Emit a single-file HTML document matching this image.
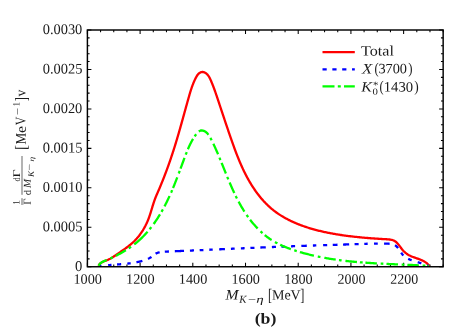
<!DOCTYPE html>
<html><head><meta charset="utf-8"><title>chart</title>
<style>html,body{margin:0;padding:0;background:#fff}svg{display:block} .t{filter:grayscale(1)} text{font-family:"Liberation Serif",serif}</style>
</head><body>
<svg width="469" height="328" viewBox="0 0 469 328">
<rect width="469" height="328" fill="#fff"/>
<clipPath id="c"><rect x="87.4" y="30.0" width="355.75" height="236.75"/></clipPath>
<path d="M87.40,266.75 v-4.0 M87.40,30.0 v4.0 M100.58,266.75 v-2.2 M100.58,30.0 v2.2 M113.75,266.75 v-2.2 M113.75,30.0 v2.2 M126.93,266.75 v-2.2 M126.93,30.0 v2.2 M140.10,266.75 v-4.0 M140.10,30.0 v4.0 M153.28,266.75 v-2.2 M153.28,30.0 v2.2 M166.46,266.75 v-2.2 M166.46,30.0 v2.2 M179.63,266.75 v-2.2 M179.63,30.0 v2.2 M192.81,266.75 v-4.0 M192.81,30.0 v4.0 M205.98,266.75 v-2.2 M205.98,30.0 v2.2 M219.16,266.75 v-2.2 M219.16,30.0 v2.2 M232.34,266.75 v-2.2 M232.34,30.0 v2.2 M245.51,266.75 v-4.0 M245.51,30.0 v4.0 M258.69,266.75 v-2.2 M258.69,30.0 v2.2 M271.86,266.75 v-2.2 M271.86,30.0 v2.2 M285.04,266.75 v-2.2 M285.04,30.0 v2.2 M298.21,266.75 v-4.0 M298.21,30.0 v4.0 M311.39,266.75 v-2.2 M311.39,30.0 v2.2 M324.57,266.75 v-2.2 M324.57,30.0 v2.2 M337.74,266.75 v-2.2 M337.74,30.0 v2.2 M350.92,266.75 v-4.0 M350.92,30.0 v4.0 M364.09,266.75 v-2.2 M364.09,30.0 v2.2 M377.27,266.75 v-2.2 M377.27,30.0 v2.2 M390.45,266.75 v-2.2 M390.45,30.0 v2.2 M403.62,266.75 v-4.0 M403.62,30.0 v4.0 M416.80,266.75 v-2.2 M416.80,30.0 v2.2 M429.97,266.75 v-2.2 M429.97,30.0 v2.2 M443.15,266.75 v-2.2 M443.15,30.0 v2.2 M87.4,266.75 h4.0 M443.15,266.75 h-4.0 M87.4,258.86 h2.2 M443.15,258.86 h-2.2 M87.4,250.97 h2.2 M443.15,250.97 h-2.2 M87.4,243.07 h2.2 M443.15,243.07 h-2.2 M87.4,235.18 h2.2 M443.15,235.18 h-2.2 M87.4,227.29 h4.0 M443.15,227.29 h-4.0 M87.4,219.40 h2.2 M443.15,219.40 h-2.2 M87.4,211.51 h2.2 M443.15,211.51 h-2.2 M87.4,203.62 h2.2 M443.15,203.62 h-2.2 M87.4,195.72 h2.2 M443.15,195.72 h-2.2 M87.4,187.83 h4.0 M443.15,187.83 h-4.0 M87.4,179.94 h2.2 M443.15,179.94 h-2.2 M87.4,172.05 h2.2 M443.15,172.05 h-2.2 M87.4,164.16 h2.2 M443.15,164.16 h-2.2 M87.4,156.27 h2.2 M443.15,156.27 h-2.2 M87.4,148.38 h4.0 M443.15,148.38 h-4.0 M87.4,140.48 h2.2 M443.15,140.48 h-2.2 M87.4,132.59 h2.2 M443.15,132.59 h-2.2 M87.4,124.70 h2.2 M443.15,124.70 h-2.2 M87.4,116.81 h2.2 M443.15,116.81 h-2.2 M87.4,108.92 h4.0 M443.15,108.92 h-4.0 M87.4,101.02 h2.2 M443.15,101.02 h-2.2 M87.4,93.13 h2.2 M443.15,93.13 h-2.2 M87.4,85.24 h2.2 M443.15,85.24 h-2.2 M87.4,77.35 h2.2 M443.15,77.35 h-2.2 M87.4,69.46 h4.0 M443.15,69.46 h-4.0 M87.4,61.57 h2.2 M443.15,61.57 h-2.2 M87.4,53.67 h2.2 M443.15,53.67 h-2.2 M87.4,45.78 h2.2 M443.15,45.78 h-2.2 M87.4,37.89 h2.2 M443.15,37.89 h-2.2 M87.4,30.00 h4.0 M443.15,30.00 h-4.0" stroke="#000" stroke-width="1.05" fill="none"/>
<g clip-path="url(#c)" fill="none" stroke-linejoin="round">
<path d="M98.60,265.80 L99.05,264.89 L99.59,264.11 L100.22,263.45 L100.92,262.87 L101.68,262.38 L102.48,261.96 L103.33,261.58 L104.20,261.23 L105.08,260.91 L105.97,260.58 L106.85,260.24 L107.71,259.88 L108.55,259.49 L109.38,259.08 L110.20,258.66 L111.01,258.21 L111.80,257.74 L112.59,257.27 L113.37,256.78 L114.14,256.27 L114.90,255.76 L115.67,255.25 L116.43,254.72 L117.19,254.20 L117.95,253.67 L118.71,253.14 L119.48,252.61 L120.24,252.08 L121.01,251.56 L121.78,251.03 L122.55,250.49 L123.31,249.96 L124.08,249.42 L124.84,248.88 L125.59,248.33 L126.35,247.78 L127.10,247.22 L127.84,246.66 L128.58,246.09 L129.31,245.52 L130.04,244.93 L130.75,244.34 L131.46,243.74 L132.16,243.12 L132.85,242.50 L133.53,241.87 L134.20,241.23 L134.86,240.57 L135.50,239.90 L136.13,239.22 L136.75,238.54 L137.36,237.84 L137.96,237.13 L138.55,236.41 L139.13,235.68 L139.69,234.94 L140.24,234.19 L140.78,233.43 L141.31,232.66 L141.83,231.89 L142.34,231.11 L142.84,230.32 L143.32,229.52 L143.79,228.71 L144.26,227.90 L144.71,227.08 L145.15,226.26 L145.57,225.43 L145.99,224.59 L146.40,223.75 L146.79,222.90 L147.18,222.05 L147.55,221.19 L147.91,220.33 L148.26,219.46 L148.60,218.59 L148.93,217.72 L149.25,216.84 L149.55,215.96 L149.85,215.08 L150.14,214.20 L150.43,213.31 L150.71,212.42 L150.98,211.53 L151.25,210.64 L151.52,209.75 L151.79,208.86 L152.05,207.97 L152.32,207.08 L152.59,206.19 L152.86,205.30 L153.14,204.42 L153.42,203.53 L153.70,202.65 L154.00,201.77 L154.30,200.89 L154.61,200.01 L154.94,199.14 L155.27,198.27 L155.61,197.41 L155.96,196.55 L156.32,195.68 L156.69,194.83 L157.05,193.97 L157.42,193.11 L157.79,192.26 L158.17,191.40 L158.53,190.54 L158.90,189.69 L159.27,188.83 L159.63,187.97 L159.99,187.11 L160.35,186.25 L160.71,185.39 L161.07,184.53 L161.42,183.67 L161.77,182.80 L162.12,181.94 L162.47,181.08 L162.81,180.21 L163.16,179.35 L163.50,178.48 L163.84,177.61 L164.18,176.75 L164.51,175.88 L164.85,175.01 L165.18,174.14 L165.51,173.27 L165.84,172.40 L166.16,171.53 L166.49,170.66 L166.81,169.78 L167.13,168.91 L167.45,168.04 L167.77,167.16 L168.09,166.29 L168.40,165.41 L168.71,164.53 L169.02,163.65 L169.33,162.78 L169.64,161.90 L169.94,161.02 L170.25,160.14 L170.55,159.26 L170.85,158.38 L171.15,157.50 L171.45,156.61 L171.74,155.73 L172.04,154.85 L172.33,153.96 L172.62,153.08 L172.91,152.19 L173.19,151.30 L173.48,150.42 L173.76,149.53 L174.05,148.64 L174.33,147.75 L174.61,146.86 L174.88,145.97 L175.16,145.08 L175.44,144.19 L175.71,143.30 L175.98,142.41 L176.25,141.51 L176.52,140.62 L176.79,139.73 L177.06,138.83 L177.32,137.94 L177.59,137.04 L177.85,136.15 L178.11,135.25 L178.37,134.35 L178.63,133.46 L178.89,132.56 L179.15,131.66 L179.41,130.76 L179.66,129.87 L179.92,128.97 L180.18,128.07 L180.43,127.17 L180.68,126.27 L180.94,125.37 L181.19,124.48 L181.44,123.58 L181.69,122.68 L181.94,121.78 L182.19,120.88 L182.44,119.98 L182.69,119.08 L182.94,118.19 L183.19,117.29 L183.44,116.39 L183.69,115.49 L183.94,114.59 L184.18,113.70 L184.43,112.80 L184.68,111.90 L184.93,111.01 L185.18,110.11 L185.42,109.21 L185.67,108.32 L185.92,107.42 L186.17,106.53 L186.42,105.63 L186.67,104.74 L186.92,103.84 L187.17,102.95 L187.42,102.06 L187.67,101.17 L187.92,100.27 L188.17,99.38 L188.42,98.49 L188.67,97.60 L188.93,96.71 L189.18,95.83 L189.44,94.94 L189.70,94.05 L189.96,93.17 L190.22,92.28 L190.49,91.39 L190.77,90.51 L191.05,89.62 L191.34,88.74 L191.64,87.85 L191.95,86.97 L192.26,86.08 L192.59,85.20 L192.93,84.31 L193.28,83.43 L193.64,82.54 L194.02,81.66 L194.41,80.77 L194.82,79.88 L195.24,79.00 L195.68,78.11 L196.14,77.23 L196.62,76.36 L197.13,75.53 L197.69,74.76 L198.28,74.05 L198.93,73.42 L199.62,72.90 L200.36,72.48 L201.13,72.18 L201.92,72.01 L202.72,71.97 L203.52,72.08 L204.30,72.32 L205.07,72.68 L205.82,73.16 L206.53,73.72 L207.21,74.37 L207.84,75.09 L208.42,75.86 L208.96,76.66 L209.45,77.50 L209.90,78.37 L210.32,79.26 L210.73,80.15 L211.11,81.05 L211.49,81.94 L211.86,82.83 L212.22,83.72 L212.57,84.61 L212.92,85.49 L213.26,86.38 L213.59,87.26 L213.92,88.13 L214.24,89.01 L214.56,89.89 L214.87,90.76 L215.18,91.63 L215.48,92.50 L215.79,93.38 L216.08,94.25 L216.38,95.12 L216.68,95.99 L216.97,96.86 L217.26,97.73 L217.56,98.61 L217.85,99.48 L218.14,100.35 L218.43,101.23 L218.73,102.11 L219.02,102.98 L219.31,103.86 L219.60,104.74 L219.90,105.62 L220.19,106.50 L220.48,107.38 L220.77,108.26 L221.07,109.14 L221.36,110.02 L221.65,110.90 L221.94,111.79 L222.24,112.67 L222.53,113.55 L222.82,114.44 L223.12,115.32 L223.41,116.21 L223.71,117.09 L224.00,117.98 L224.30,118.86 L224.59,119.75 L224.89,120.63 L225.18,121.52 L225.48,122.41 L225.78,123.29 L226.07,124.18 L226.37,125.06 L226.67,125.95 L226.97,126.83 L227.27,127.72 L227.57,128.61 L227.87,129.49 L228.17,130.38 L228.47,131.26 L228.77,132.15 L229.07,133.03 L229.38,133.91 L229.68,134.80 L229.98,135.68 L230.29,136.56 L230.59,137.45 L230.90,138.33 L231.21,139.21 L231.52,140.09 L231.82,140.97 L232.13,141.85 L232.45,142.73 L232.76,143.61 L233.07,144.49 L233.39,145.36 L233.70,146.24 L234.02,147.12 L234.34,147.99 L234.66,148.86 L234.98,149.74 L235.31,150.61 L235.63,151.48 L235.96,152.35 L236.29,153.22 L236.63,154.09 L236.96,154.95 L237.30,155.82 L237.64,156.68 L237.99,157.54 L238.34,158.41 L238.69,159.27 L239.04,160.12 L239.40,160.98 L239.76,161.84 L240.12,162.69 L240.49,163.54 L240.86,164.39 L241.23,165.24 L241.61,166.09 L241.99,166.94 L242.38,167.78 L242.77,168.63 L243.16,169.47 L243.56,170.30 L243.96,171.14 L244.37,171.98 L244.78,172.81 L245.20,173.64 L245.62,174.47 L246.05,175.30 L246.48,176.12 L246.92,176.95 L247.36,177.77 L247.81,178.59 L248.26,179.40 L248.72,180.22 L249.19,181.03 L249.66,181.84 L250.14,182.64 L250.62,183.45 L251.11,184.25 L251.60,185.04 L252.10,185.84 L252.60,186.63 L253.11,187.41 L253.63,188.20 L254.15,188.98 L254.68,189.75 L255.22,190.52 L255.76,191.29 L256.31,192.05 L256.86,192.80 L257.42,193.56 L257.99,194.30 L258.56,195.04 L259.14,195.78 L259.72,196.51 L260.31,197.23 L260.91,197.95 L261.51,198.67 L262.12,199.37 L262.74,200.07 L263.36,200.77 L263.99,201.45 L264.62,202.13 L265.27,202.81 L265.91,203.47 L266.57,204.13 L267.23,204.78 L267.90,205.43 L268.58,206.06 L269.26,206.69 L269.95,207.31 L270.64,207.93 L271.35,208.53 L272.05,209.13 L272.77,209.71 L273.49,210.29 L274.22,210.86 L274.96,211.42 L275.70,211.97 L276.45,212.52 L277.21,213.05 L277.97,213.58 L278.74,214.10 L279.51,214.61 L280.29,215.11 L281.07,215.61 L281.86,216.10 L282.66,216.57 L283.46,217.05 L284.27,217.51 L285.08,217.97 L285.89,218.42 L286.71,218.86 L287.54,219.29 L288.36,219.72 L289.20,220.14 L290.03,220.55 L290.87,220.96 L291.72,221.36 L292.57,221.75 L293.42,222.14 L294.28,222.52 L295.13,222.89 L296.00,223.26 L296.86,223.62 L297.73,223.97 L298.60,224.32 L299.47,224.66 L300.35,224.99 L301.23,225.32 L302.11,225.65 L302.99,225.96 L303.87,226.27 L304.76,226.58 L305.65,226.88 L306.54,227.18 L307.43,227.47 L308.32,227.75 L309.21,228.03 L310.11,228.30 L311.01,228.57 L311.90,228.83 L312.80,229.09 L313.70,229.35 L314.60,229.60 L315.50,229.84 L316.40,230.08 L317.31,230.31 L318.21,230.54 L319.12,230.77 L320.02,230.99 L320.93,231.21 L321.84,231.42 L322.74,231.63 L323.65,231.83 L324.56,232.03 L325.47,232.23 L326.39,232.42 L327.30,232.61 L328.21,232.79 L329.12,232.97 L330.04,233.15 L330.95,233.32 L331.87,233.49 L332.78,233.66 L333.70,233.82 L334.62,233.98 L335.53,234.14 L336.45,234.29 L337.37,234.44 L338.29,234.59 L339.20,234.73 L340.12,234.87 L341.04,235.01 L341.96,235.15 L342.88,235.28 L343.80,235.41 L344.72,235.53 L345.64,235.66 L346.56,235.78 L347.48,235.90 L348.40,236.02 L349.32,236.13 L350.24,236.25 L351.16,236.36 L352.08,236.46 L353.00,236.57 L353.92,236.68 L354.84,236.78 L355.76,236.88 L356.69,236.98 L357.61,237.07 L358.53,237.17 L359.45,237.26 L360.37,237.35 L361.30,237.44 L362.22,237.53 L363.15,237.61 L364.07,237.70 L365.00,237.78 L365.93,237.86 L366.85,237.94 L367.78,238.02 L368.71,238.09 L369.64,238.17 L370.57,238.24 L371.51,238.31 L372.44,238.38 L373.38,238.45 L374.31,238.51 L375.25,238.58 L376.19,238.64 L377.13,238.71 L378.07,238.77 L379.02,238.83 L379.96,238.89 L380.91,238.94 L381.85,239.00 L382.80,239.06 L383.76,239.11 L384.71,239.16 L385.67,239.22 L386.62,239.27 L387.58,239.33 L388.53,239.40 L389.47,239.49 L390.39,239.61 L391.29,239.77 L392.17,239.98 L393.02,240.24 L393.83,240.56 L394.61,240.96 L395.34,241.43 L396.04,241.97 L396.70,242.57 L397.34,243.22 L397.96,243.91 L398.56,244.64 L399.14,245.39 L399.72,246.16 L400.29,246.94 L400.86,247.72 L401.44,248.49 L402.03,249.25 L402.63,249.98 L403.25,250.68 L403.90,251.35 L404.56,251.98 L405.24,252.58 L405.95,253.16 L406.67,253.69 L407.42,254.20 L408.18,254.69 L408.97,255.14 L409.77,255.57 L410.60,255.97 L411.44,256.34 L412.30,256.70 L413.17,257.04 L414.05,257.37 L414.94,257.69 L415.84,258.00 L416.74,258.31 L417.63,258.62 L418.53,258.94 L419.42,259.27 L420.30,259.61 L421.17,259.96 L422.03,260.34 L422.87,260.74 L423.69,261.16 L424.50,261.62 L425.27,262.11 L426.03,262.65 L426.75,263.22 L427.44,263.84 L428.10,264.50 L428.72,265.22 L429.30,266.00" stroke="#ff0000" stroke-width="2.3"/>
<path d="M99.71,266.18 L100.04,266.13 L100.38,266.09 L100.71,266.04 L101.04,265.99 L101.38,265.95 M108.11,265.20 L108.45,265.17 L108.78,265.14 L109.12,265.11 L109.46,265.08 L109.80,265.06 L110.14,265.03 L110.48,265.00 L110.82,264.97 L111.16,264.94 L111.50,264.92 M117.07,264.50 L117.41,264.48 L117.75,264.45 L118.10,264.42 L118.44,264.40 L118.78,264.37 L119.12,264.35 L119.46,264.32 L119.80,264.29 L120.14,264.27 L120.49,264.24 L120.83,264.21 L121.17,264.19 M127.29,263.61 L127.63,263.58 L127.97,263.54 L128.31,263.50 L128.64,263.46 L128.98,263.42 L129.32,263.38 L129.66,263.34 L130.00,263.29 L130.33,263.25 L130.67,263.20 M136.47,262.26 L136.80,262.19 L137.13,262.12 L137.46,262.06 L137.79,261.99 L138.12,261.92 L138.45,261.84 L138.78,261.77 L139.11,261.69 L139.43,261.62 L139.76,261.54 L140.09,261.46 L140.42,261.38 L140.74,261.29 L141.07,261.21 L141.40,261.12 L141.72,261.04 L142.05,260.95 L142.37,260.85 M147.96,258.86 L148.26,258.71 L148.56,258.57 L148.86,258.41 L149.16,258.26 L149.46,258.10 L149.75,257.93 L150.04,257.77 L150.33,257.59 L150.61,257.41 L150.89,257.23 L151.18,257.04 L151.45,256.84 M155.62,253.72 L155.91,253.55 L156.21,253.40 L156.50,253.25 L156.81,253.12 L157.11,252.99 L157.43,252.87 L157.74,252.76 L158.06,252.66 L158.38,252.56 L158.70,252.48 L159.02,252.39 L159.35,252.32 L159.68,252.25 M164.82,251.66 L165.16,251.64 L165.50,251.62 L165.84,251.61 L166.18,251.59 L166.52,251.58 L166.87,251.56 L167.21,251.55 L167.55,251.54 L167.89,251.52 L168.23,251.51 L168.57,251.50 L168.91,251.48 M174.82,251.24 L175.16,251.23 L175.51,251.21 L175.85,251.20 L176.19,251.18 L176.53,251.17 L176.87,251.15 L177.21,251.14 L177.55,251.13 L177.89,251.11 L178.23,251.10 L178.57,251.08 L178.91,251.07 L179.25,251.05 L179.59,251.04 L179.94,251.03 L180.28,251.01 L180.62,251.00 L180.96,250.98 L181.30,250.97 L181.64,250.95 L181.98,250.94 L182.32,250.93 L182.66,250.91 L183.00,250.90 L183.34,250.88 L183.68,250.87 L184.02,250.85 M189.92,250.60 L190.26,250.59 L190.60,250.57 L190.94,250.56 L191.28,250.54 L191.63,250.53 L191.97,250.51 L192.31,250.50 L192.65,250.48 L192.99,250.47 L193.33,250.45 L193.67,250.44 L194.01,250.42 M199.68,250.18 L200.02,250.16 L200.36,250.15 L200.70,250.13 L201.04,250.12 L201.38,250.10 L201.72,250.09 L202.06,250.07 L202.40,250.06 L202.74,250.04 L203.08,250.03 L203.42,250.01 M209.31,249.76 L209.65,249.74 L209.99,249.73 L210.33,249.71 L210.67,249.70 L211.01,249.68 L211.35,249.67 L211.69,249.65 L212.03,249.64 L212.37,249.62 L212.71,249.61 M219.16,249.32 L219.50,249.30 L219.84,249.29 L220.18,249.27 L220.52,249.26 L220.86,249.24 L221.20,249.23 L221.54,249.21 L221.88,249.20 L222.22,249.18 L222.56,249.17 L222.90,249.15 L223.24,249.14 L223.58,249.12 L223.92,249.11 L224.26,249.09 L224.60,249.08 L224.94,249.06 M230.93,248.80 L231.27,248.78 L231.61,248.77 L231.95,248.75 L232.29,248.74 L232.63,248.72 L232.97,248.71 L233.31,248.69 L233.65,248.68 L233.99,248.66 L234.33,248.65 L234.67,248.63 M240.89,248.36 L241.23,248.35 L241.57,248.33 L241.91,248.32 L242.25,248.30 L242.59,248.29 L242.93,248.27 L243.27,248.26 L243.61,248.24 L243.95,248.23 L244.29,248.21 L244.63,248.20 M250.40,247.95 L250.74,247.93 L251.07,247.92 L251.41,247.91 L251.75,247.89 L252.09,247.88 L252.43,247.86 L252.77,247.85 L253.11,247.83 L253.45,247.82 L253.79,247.80 L254.13,247.79 L254.47,247.78 M260.35,247.53 L260.69,247.51 L261.03,247.50 L261.37,247.48 L261.71,247.47 L262.05,247.45 L262.39,247.44 L262.73,247.43 L263.07,247.41 L263.41,247.40 L263.75,247.38 L264.09,247.37 L264.43,247.36 L264.76,247.34 L265.10,247.33 L265.44,247.31 L265.78,247.30 M271.89,247.05 L272.23,247.03 L272.57,247.02 L272.91,247.01 L273.25,246.99 L273.59,246.98 L273.93,246.97 L274.27,246.95 L274.61,246.94 L274.95,246.93 L275.29,246.91 L275.63,246.90 L275.97,246.88 M281.40,246.67 L281.74,246.66 L282.08,246.64 L282.42,246.63 L282.76,246.62 L283.10,246.60 L283.44,246.59 L283.78,246.58 L284.12,246.56 L284.46,246.55 L284.80,246.54 M291.03,246.30 L291.37,246.29 L291.71,246.28 L292.05,246.26 L292.39,246.25 L292.73,246.24 L293.06,246.22 L293.40,246.21 L293.74,246.20 L294.08,246.19 L294.42,246.17 L294.76,246.16 L295.10,246.15 M301.34,245.93 L301.68,245.91 L302.02,245.90 L302.36,245.89 L302.70,245.88 L303.04,245.87 L303.38,245.85 L303.72,245.84 L304.06,245.83 L304.40,245.82 L304.74,245.81 L305.08,245.80 L305.42,245.78 L305.76,245.77 L306.10,245.76 L306.44,245.75 L306.78,245.74 M312.90,245.53 L313.24,245.52 L313.58,245.51 L313.92,245.50 L314.26,245.49 L314.60,245.48 L314.94,245.47 L315.28,245.45 L315.62,245.44 L315.96,245.43 L316.30,245.42 M323.11,245.20 L323.45,245.19 L323.79,245.18 L324.13,245.17 L324.47,245.16 L324.81,245.15 L325.15,245.14 L325.49,245.13 L325.83,245.12 L326.17,245.11 L326.51,245.09 L326.85,245.08 L327.19,245.07 M332.74,244.90 L333.08,244.89 L333.42,244.87 L333.76,244.86 L334.10,244.85 L334.44,244.84 L334.78,244.83 L335.12,244.82 L335.46,244.81 L335.80,244.80 L336.14,244.79 L336.48,244.78 L336.82,244.77 L337.16,244.76 L337.50,244.74 M343.05,244.57 L343.39,244.55 L343.73,244.54 L344.07,244.53 L344.41,244.52 L344.75,244.51 L345.09,244.50 L345.43,244.49 L345.76,244.48 L346.10,244.47 L346.44,244.45 L346.78,244.44 L347.12,244.43 L347.46,244.42 L347.80,244.41 L348.14,244.40 L348.48,244.39 L348.82,244.38 L349.16,244.36 M354.58,244.18 L354.92,244.17 L355.26,244.16 L355.60,244.15 L355.93,244.13 L356.27,244.12 L356.61,244.11 L356.95,244.10 L357.29,244.09 L357.63,244.07 L357.97,244.06 L358.30,244.05 L358.64,244.04 M364.28,243.84 L364.62,243.83 L364.96,243.82 L365.30,243.81 L365.64,243.80 L365.98,243.79 L366.31,243.78 L366.65,243.77 L366.99,243.76 L367.33,243.75 L367.67,243.74 M374.01,243.60 L374.35,243.59 L374.69,243.59 L375.03,243.58 L375.38,243.58 L375.72,243.58 L376.06,243.57 L376.40,243.57 L376.74,243.57 L377.08,243.56 L377.42,243.56 L377.77,243.56 M384.06,243.59 L384.41,243.60 L384.76,243.61 L385.10,243.61 L385.45,243.62 L385.79,243.63 L386.14,243.64 L386.49,243.65 L386.83,243.66 L387.18,243.67 L387.53,243.68 L387.87,243.69 L388.22,243.70 L388.57,243.72 L388.91,243.74 L389.26,243.76 L389.60,243.78 M395.00,245.23 L395.27,245.40 L395.53,245.58 L395.78,245.77 L396.03,245.97 L396.27,246.18 L396.51,246.39 L396.75,246.62 L396.98,246.86 L397.20,247.10 L397.42,247.35 L397.64,247.61 L397.85,247.87 L398.07,248.14 M401.22,252.73 L401.42,253.03 L401.63,253.32 L401.84,253.61 L402.05,253.89 L402.27,254.17 L402.48,254.45 L402.70,254.72 L402.93,254.98 L403.16,255.24 L403.39,255.49 M408.21,258.88 L408.51,259.02 L408.82,259.16 L409.12,259.29 L409.43,259.42 L409.75,259.55 L410.06,259.68 L410.38,259.80 L410.69,259.92 L411.01,260.04 L411.33,260.16 L411.65,260.27 M417.72,262.21 L418.04,262.30 L418.37,262.40 L418.70,262.50 L419.03,262.60 L419.36,262.69 L419.68,262.79 L420.01,262.89 L420.34,262.99 L420.67,263.08 L420.99,263.18 L421.32,263.28 M427.33,265.32 L427.65,265.44 L427.96,265.57 L428.27,265.69 L428.59,265.82 L428.90,265.96" stroke="#0000ff" stroke-width="2.3"/>
<path d="M98.60,265.80 L99.02,265.00 L99.51,264.28 L100.07,263.64 L100.69,263.07 L101.37,262.56 L102.08,262.10 L102.83,261.68 L103.61,261.30 L104.41,260.95 L105.22,260.61 L106.03,260.29 L106.77,259.99 M115.82,255.85 L116.65,255.42 L117.48,254.99 L118.31,254.56 L119.14,254.11 L119.96,253.66 L120.79,253.20 L121.61,252.74 L122.43,252.27 L123.25,251.79 L124.07,251.31 L124.88,250.82 L125.69,250.32 L125.89,250.19 M134.20,244.42 L135.37,243.49 L136.53,242.55 L137.67,241.59 L138.78,240.61 L139.89,239.61 L140.97,238.59 L142.04,237.56 L143.09,236.52 L144.12,235.45 L145.14,234.38 L146.14,233.28 L147.13,232.18 L147.59,231.65 M153.65,224.00 L154.20,223.24 L154.74,222.47 L155.28,221.70 L155.81,220.92 L156.33,220.14 L156.85,219.36 L157.37,218.57 L157.88,217.78 L158.39,216.99 L158.89,216.19 L159.38,215.39 L159.87,214.58 L159.99,214.38 M164.51,206.36 L164.94,205.52 L165.38,204.68 L165.81,203.84 L166.23,203.00 L166.65,202.15 L167.07,201.30 L167.48,200.45 L167.89,199.60 L168.30,198.75 L168.70,197.89 L169.09,197.04 L169.49,196.18 L169.58,195.96 M173.02,188.05 L173.38,187.18 L173.73,186.31 L174.09,185.44 L174.44,184.56 L174.79,183.69 L175.14,182.82 L175.48,181.94 L175.83,181.07 L176.17,180.19 L176.51,179.32 L176.84,178.44 L177.18,177.56 L177.26,177.34 M180.51,168.68 L180.83,167.80 L181.16,166.92 L181.49,166.04 L181.81,165.15 L182.14,164.27 L182.46,163.39 L182.79,162.51 L183.12,161.62 L183.45,160.74 L183.77,159.86 L184.10,158.97 L184.43,158.09 L184.51,157.87 M187.90,149.24 L188.27,148.37 L188.65,147.51 L189.04,146.65 L189.43,145.79 L189.83,144.94 L190.25,144.09 L190.67,143.24 L191.10,142.40 L191.55,141.57 L192.01,140.74 L192.47,139.91 L192.96,139.09 L193.04,138.96 M198.80,131.51 L199.52,131.04 L200.28,130.69 L201.08,130.49 L201.93,130.44 L202.83,130.57 L203.75,130.84 L204.65,131.26 L205.52,131.78 L206.33,132.40 L207.06,133.10 L207.73,133.84 L208.34,134.63 L208.49,134.82 M213.33,143.75 L213.73,144.59 L214.13,145.44 L214.53,146.29 L214.92,147.14 L215.31,148.00 L215.69,148.85 L216.08,149.71 L216.46,150.57 L216.84,151.43 L217.21,152.29 L217.59,153.16 L217.96,154.03 L218.05,154.24 M221.61,162.82 L221.96,163.70 L222.31,164.57 L222.67,165.45 L223.02,166.32 L223.37,167.20 L223.73,168.08 L224.08,168.95 L224.43,169.83 L224.78,170.70 L225.14,171.58 L225.49,172.45 L225.84,173.33 L225.90,173.47 M229.61,182.47 L229.98,183.34 L230.35,184.20 L230.72,185.07 L231.10,185.93 L231.47,186.79 L231.85,187.65 L232.23,188.51 L232.62,189.36 L233.01,190.22 L233.40,191.07 L233.79,191.92 L234.19,192.77 L234.32,193.05 M238.61,201.64 L239.06,202.47 L239.51,203.29 L239.96,204.11 L240.42,204.93 L240.88,205.74 L241.35,206.55 L241.82,207.36 L242.30,208.17 L242.79,208.97 L243.28,209.77 L243.77,210.57 L244.28,211.37 L244.40,211.56 M250.09,219.69 L250.67,220.44 L251.26,221.19 L251.85,221.93 L252.45,222.66 L253.06,223.39 L253.68,224.12 L254.30,224.84 L254.93,225.55 L255.56,226.26 L256.20,226.96 L256.85,227.65 L257.51,228.34 L257.62,228.46 M264.74,235.04 L265.29,235.49 L265.84,235.93 L266.40,236.36 L266.96,236.79 L267.52,237.22 L268.09,237.64 L268.66,238.05 L269.24,238.46 L269.81,238.86 L270.40,239.26 L270.98,239.64 L271.57,240.03 L271.64,240.07 M280.20,244.78 L281.05,245.17 L281.91,245.56 L282.77,245.94 L283.63,246.32 L284.50,246.68 L285.37,247.04 L286.24,247.39 L287.12,247.74 L288.00,248.07 L288.88,248.40 L289.77,248.73 L290.66,249.05 L290.88,249.12 M299.92,252.04 L301.05,252.37 L302.18,252.70 L303.31,253.02 L304.45,253.33 L305.58,253.63 L306.72,253.93 L307.85,254.22 L308.99,254.51 L310.13,254.79 L311.27,255.07 L312.41,255.34 L313.56,255.60 L313.94,255.69 M324.36,257.81 L325.28,257.98 L326.21,258.14 L327.13,258.30 L328.06,258.46 L328.99,258.61 L329.91,258.76 L330.84,258.91 L331.77,259.06 L332.70,259.20 L333.63,259.34 L334.56,259.48 L335.49,259.61 L335.72,259.65 M345.44,260.89 L346.38,261.00 L347.31,261.10 L348.25,261.20 L349.19,261.30 L350.13,261.40 L351.06,261.49 L352.00,261.58 L352.94,261.67 L353.88,261.76 L354.82,261.85 L355.76,261.94 L356.70,262.02 L356.93,262.04 M365.40,262.71 L366.35,262.77 L367.29,262.84 L368.23,262.90 L369.17,262.96 L370.12,263.02 L371.06,263.08 L372.00,263.14 L372.95,263.20 L373.89,263.25 L374.83,263.31 L375.78,263.36 L376.72,263.42 L376.88,263.42 M386.48,263.91 L387.42,263.95 L388.37,264.00 L389.31,264.04 L390.25,264.08 L391.20,264.12 L392.14,264.17 L393.09,264.21 L394.03,264.25 L394.97,264.29 L395.92,264.33 L396.86,264.37 L397.80,264.41 L398.04,264.42 M407.38,264.81 L408.32,264.85 L409.26,264.89 L410.20,264.94 L411.14,264.98 L412.08,265.02 L413.02,265.06 L413.96,265.11 L414.89,265.15 L415.83,265.19 L416.77,265.24 L417.71,265.28 L418.64,265.33 L418.88,265.34 M427.60,265.82 L427.68,265.82 L427.76,265.83 L427.83,265.83 L427.91,265.83 L427.99,265.84 L428.07,265.84 L428.15,265.85 L428.22,265.85 L428.30,265.86 L428.38,265.86 L428.46,265.87 L428.53,265.87 L428.61,265.88 L428.69,265.88 L428.77,265.89 L428.84,265.89 L428.92,265.90 L429.00,265.90 L429.00,265.90 M110.38,258.45 L110.59,258.36 L110.80,258.26 L111.01,258.17 L111.22,258.07 L111.43,257.97 L111.64,257.88 L111.85,257.78 L112.06,257.68 L112.27,257.58 L112.48,257.48 L112.69,257.38 L112.83,257.32 M128.75,248.35 L128.95,248.21 L129.15,248.08 L129.34,247.95 L129.54,247.81 L129.74,247.68 L129.93,247.54 L130.13,247.41 L130.32,247.27 L130.52,247.14 L130.71,247.00 L130.90,246.87 L131.03,246.77 M149.55,229.32 L149.70,229.14 L149.84,228.96 L149.99,228.78 L150.14,228.59 L150.29,228.41 L150.43,228.23 L150.58,228.04 L150.72,227.86 L150.87,227.68 L151.01,227.49 L151.16,227.31 L151.25,227.18 M161.51,211.81 L161.63,211.60 L161.74,211.40 L161.86,211.19 L161.98,210.99 L162.09,210.78 L162.21,210.57 L162.32,210.37 L162.44,210.16 L162.55,209.96 L162.67,209.75 L162.78,209.54 L162.86,209.41 M171.05,192.66 L171.15,192.45 L171.24,192.23 L171.34,192.02 L171.43,191.80 L171.52,191.59 L171.62,191.37 L171.71,191.15 L171.80,190.94 L171.89,190.72 L171.99,190.50 L172.08,190.29 L172.14,190.14 M178.73,173.46 L178.79,173.31 L178.84,173.16 L178.90,173.02 L178.95,172.87 L179.01,172.72 L179.06,172.58 L179.12,172.43 L179.17,172.28 L179.23,172.14 L179.28,171.99 L179.34,171.84 L179.39,171.70 L179.44,171.55 L179.50,171.40 L179.55,171.26 L179.61,171.11 L179.66,170.96 L179.66,170.96 M185.71,154.71 L185.79,154.49 L185.88,154.27 L185.96,154.05 L186.05,153.83 L186.13,153.61 L186.22,153.39 L186.30,153.17 L186.39,152.95 L186.48,152.73 L186.56,152.51 L186.65,152.29 L186.71,152.15 M194.62,136.48 L194.71,136.34 L194.80,136.21 L194.89,136.08 L194.98,135.95 L195.08,135.82 L195.17,135.68 L195.26,135.55 L195.35,135.42 L195.45,135.29 L195.54,135.16 L195.63,135.03 L195.73,134.90 L195.82,134.77 L195.92,134.64 L196.01,134.51 L196.11,134.38 L196.21,134.25 L196.21,134.25 M210.36,137.86 L210.47,138.06 L210.58,138.27 L210.69,138.47 L210.80,138.68 L210.90,138.88 L211.01,139.09 L211.12,139.30 L211.22,139.50 L211.33,139.71 L211.44,139.92 L211.54,140.13 L211.61,140.26 M219.48,157.65 L219.54,157.80 L219.60,157.94 L219.67,158.09 L219.73,158.23 L219.79,158.38 L219.85,158.52 L219.91,158.67 L219.97,158.81 L220.03,158.96 L220.09,159.10 L220.15,159.25 L220.21,159.40 L220.27,159.54 L220.33,159.69 L220.39,159.83 L220.45,159.98 L220.51,160.12 L220.51,160.12 M227.29,176.89 L227.35,177.04 L227.41,177.18 L227.47,177.33 L227.53,177.48 L227.59,177.62 L227.65,177.77 L227.71,177.91 L227.77,178.06 L227.83,178.20 L227.89,178.35 L227.95,178.49 L228.01,178.64 L228.07,178.78 L228.13,178.93 L228.19,179.07 L228.25,179.22 L228.31,179.36 L228.31,179.36 M235.70,195.94 L235.81,196.15 L235.91,196.36 L236.01,196.57 L236.12,196.78 L236.22,196.99 L236.33,197.20 L236.43,197.41 L236.54,197.62 L236.64,197.83 L236.75,198.04 L236.85,198.25 L236.92,198.39 M246.62,214.90 L246.75,215.09 L246.88,215.29 L247.02,215.48 L247.15,215.68 L247.29,215.87 L247.43,216.06 L247.56,216.26 L247.70,216.45 L247.84,216.64 L247.97,216.83 L248.11,217.03 L248.20,217.15 M260.48,231.29 L260.66,231.45 L260.83,231.61 L261.00,231.78 L261.18,231.94 L261.35,232.10 L261.52,232.26 L261.70,232.42 L261.87,232.57 L262.05,232.73 L262.23,232.89 L262.40,233.05 L262.52,233.15 M274.99,242.08 L275.19,242.20 L275.40,242.31 L275.60,242.43 L275.81,242.54 L276.01,242.65 L276.22,242.76 L276.43,242.87 L276.63,242.98 L276.84,243.09 L277.05,243.20 L277.26,243.31 L277.39,243.39 M294.23,250.27 L294.38,250.31 L294.53,250.36 L294.68,250.41 L294.83,250.46 L294.98,250.51 L295.13,250.56 L295.27,250.61 L295.42,250.65 L295.57,250.70 L295.72,250.75 L295.87,250.80 L296.02,250.85 L296.17,250.89 L296.32,250.94 L296.47,250.99 L296.62,251.04 L296.77,251.08 L296.77,251.08 M317.76,256.52 L317.99,256.56 L318.22,256.61 L318.45,256.66 L318.68,256.71 L318.91,256.75 L319.14,256.80 L319.37,256.85 L319.60,256.89 L319.83,256.94 L320.06,256.99 L320.29,257.03 L320.44,257.06 M338.98,260.10 L339.14,260.12 L339.29,260.14 L339.45,260.16 L339.60,260.18 L339.76,260.20 L339.91,260.22 L340.07,260.24 L340.22,260.26 L340.38,260.28 L340.54,260.30 L340.69,260.32 L340.85,260.34 L341.00,260.36 L341.16,260.38 L341.31,260.40 L341.47,260.42 L341.62,260.44 L341.62,260.44 M359.91,262.29 L360.15,262.31 L360.38,262.33 L360.62,262.35 L360.85,262.36 L361.09,262.38 L361.32,262.40 L361.56,262.42 L361.79,262.44 L362.03,262.46 L362.26,262.47 L362.50,262.49 L362.66,262.50 M380.66,263.63 L380.81,263.63 L380.97,263.64 L381.13,263.65 L381.29,263.66 L381.44,263.67 L381.60,263.67 L381.76,263.68 L381.91,263.69 L382.07,263.70 L382.23,263.70 L382.39,263.71 L382.54,263.72 L382.70,263.73 L382.86,263.74 L383.02,263.74 L383.17,263.75 L383.33,263.76 L383.33,263.76 M401.65,264.57 L401.89,264.58 L402.12,264.59 L402.36,264.60 L402.59,264.61 L402.83,264.62 L403.06,264.63 L403.30,264.64 L403.53,264.65 L403.77,264.66 L404.00,264.67 L404.24,264.68 L404.40,264.69 M422.62,265.54 L422.85,265.55 L423.09,265.56 L423.32,265.57 L423.56,265.59 L423.79,265.60 L424.02,265.61 L424.26,265.62 L424.49,265.64 L424.72,265.65 L424.96,265.66 L425.19,265.68 L425.35,265.69" stroke="#00ff00" stroke-width="2.3"/>
</g>
<rect x="87.4" y="30.0" width="355.75" height="236.75" fill="none" stroke="#000" stroke-width="1.45"/>
<g fill="none" stroke-width="2.3">
<path d="M322.5,52.1 H354.8" stroke="#ff0000"/>
<path d="M322.5,69.4 H354.8" stroke="#0000ff" stroke-dasharray="4.2 5.65"/>
<path d="M322.5,86.3 H354.8" stroke="#00ff00" stroke-dasharray="12 3.3 3 3.2"/>
</g>
<g class="t" font-family="Liberation Serif, serif" fill="#1a1a1a">
<text x="75.06" y="270.96" font-size="14.96" textLength="7.30" lengthAdjust="spacingAndGlyphs" transform="rotate(0.05 75.1 271.0)">0</text>
<text x="42.79" y="231.27" font-size="14.64" textLength="39.73" lengthAdjust="spacingAndGlyphs" transform="rotate(0.05 42.8 231.3)">0.0005</text>
<text x="42.76" y="191.77" font-size="14.68" textLength="39.60" lengthAdjust="spacingAndGlyphs" transform="rotate(0.05 42.8 191.8)">0.0010</text>
<text x="42.79" y="152.48" font-size="14.95" textLength="39.72" lengthAdjust="spacingAndGlyphs" transform="rotate(0.05 42.8 152.5)">0.0015</text>
<text x="42.73" y="112.99" font-size="14.64" textLength="39.59" lengthAdjust="spacingAndGlyphs" transform="rotate(0.05 42.7 113.0)">0.0020</text>
<text x="42.79" y="73.49" font-size="14.65" textLength="39.73" lengthAdjust="spacingAndGlyphs" transform="rotate(0.05 42.8 73.5)">0.0025</text>
<text x="42.73" y="34.00" font-size="14.62" textLength="39.59" lengthAdjust="spacingAndGlyphs" transform="rotate(0.05 42.7 34.0)">0.0030</text>
<text x="73.40" y="283.66" font-size="14.29" textLength="28.53" lengthAdjust="spacingAndGlyphs" transform="rotate(0.05 73.4 283.7)">1000</text>
<text x="126.09" y="283.66" font-size="14.41" textLength="28.59" lengthAdjust="spacingAndGlyphs" transform="rotate(0.05 126.1 283.7)">1200</text>
<text x="178.80" y="283.66" font-size="14.30" textLength="28.47" lengthAdjust="spacingAndGlyphs" transform="rotate(0.05 178.8 283.7)">1400</text>
<text x="231.47" y="283.66" font-size="14.42" textLength="28.46" lengthAdjust="spacingAndGlyphs" transform="rotate(0.05 231.5 283.7)">1600</text>
<text x="284.27" y="283.66" font-size="14.38" textLength="28.37" lengthAdjust="spacingAndGlyphs" transform="rotate(0.05 284.3 283.7)">1800</text>
<text x="337.45" y="283.66" font-size="14.41" textLength="27.97" lengthAdjust="spacingAndGlyphs" transform="rotate(0.05 337.4 283.7)">2000</text>
<text x="390.33" y="283.66" font-size="14.41" textLength="27.86" lengthAdjust="spacingAndGlyphs" transform="rotate(0.05 390.3 283.7)">2200</text>
<text x="360.99" y="55.58" font-size="14.30" textLength="32.92" lengthAdjust="spacingAndGlyphs" transform="rotate(0.05 361.0 55.6)">Total</text>
<text x="361.93" y="73.50" font-size="14.51" font-style="italic" textLength="10.22" lengthAdjust="spacingAndGlyphs" transform="rotate(0.05 361.9 73.5)">X</text>
<text x="374.39" y="73.45" font-size="15.34" textLength="4.16" lengthAdjust="spacingAndGlyphs" transform="rotate(0.05 374.4 73.4)">(</text>
<text x="378.43" y="73.34" font-size="14.30" textLength="28.59" lengthAdjust="spacingAndGlyphs" transform="rotate(0.05 378.4 73.3)">3700</text>
<text x="408.25" y="73.52" font-size="15.37" textLength="4.28" lengthAdjust="spacingAndGlyphs" transform="rotate(0.05 408.2 73.5)">)</text>
<text x="361.39" y="91.58" font-size="13.99" font-style="italic" textLength="10.60" lengthAdjust="spacingAndGlyphs" transform="rotate(0.05 361.4 91.6)">K</text>
<text x="372.91" y="88.54" font-size="10.43" textLength="5.45" lengthAdjust="spacingAndGlyphs" transform="rotate(0.05 372.9 88.5)">*</text>
<text x="372.44" y="94.80" font-size="9.54" textLength="5.37" lengthAdjust="spacingAndGlyphs" transform="rotate(0.05 372.4 94.8)">0</text>
<text x="379.56" y="91.55" font-size="15.51" textLength="4.12" lengthAdjust="spacingAndGlyphs" transform="rotate(0.05 379.6 91.5)">(</text>
<text x="383.76" y="91.62" font-size="14.30" textLength="29.37" lengthAdjust="spacingAndGlyphs" transform="rotate(0.05 383.8 91.6)">1430</text>
<text x="414.34" y="91.57" font-size="15.62" textLength="4.45" lengthAdjust="spacingAndGlyphs" transform="rotate(0.05 414.3 91.6)">)</text>
<text x="225.55" y="299.58" font-size="14.40" font-style="italic" textLength="13.01" lengthAdjust="spacingAndGlyphs" transform="rotate(0.05 225.6 299.6)">M</text>
<text x="239.21" y="302.72" font-size="10.52" font-style="italic" textLength="7.15" lengthAdjust="spacingAndGlyphs" transform="rotate(0.05 239.2 302.7)">K</text>
<text x="248.09" y="302.96" font-size="10.00" textLength="8.07" lengthAdjust="spacingAndGlyphs" transform="rotate(0.05 248.1 303.0)">−</text>
<text x="256.39" y="302.84" font-size="10.48" font-style="italic" textLength="7.47" lengthAdjust="spacingAndGlyphs" transform="rotate(0.05 256.4 302.8)">η</text>
<text x="268.02" y="300.78" font-size="17.18" textLength="4.06" lengthAdjust="spacingAndGlyphs" transform="rotate(0.05 268.0 300.8)">[</text>
<text x="271.93" y="299.38" font-size="14.10" textLength="28.81" lengthAdjust="spacingAndGlyphs" transform="rotate(0.05 271.9 299.4)">MeV</text>
<text x="300.24" y="300.78" font-size="17.18" textLength="4.15" lengthAdjust="spacingAndGlyphs" transform="rotate(0.05 300.2 300.8)">]</text>
<text x="254.70" y="323.43" font-size="15.15" font-weight="bold" textLength="21.75" lengthAdjust="spacingAndGlyphs" transform="rotate(0.05 254.7 323.4)">(b)</text>
<g transform="rotate(-89.95)"><text x="-149.97" y="26.76" font-size="16.64" textLength="5.06" lengthAdjust="spacingAndGlyphs">[</text></g>
<g transform="rotate(-89.95)"><text x="-144.51" y="25.96" font-size="14.77" textLength="11.65" lengthAdjust="spacingAndGlyphs">M</text></g>
<g transform="rotate(-89.95)"><text x="-132.88" y="25.96" font-size="14.14" textLength="6.96" lengthAdjust="spacingAndGlyphs">e</text></g>
<g transform="rotate(-89.95)"><text x="-125.18" y="25.64" font-size="14.82" textLength="8.60" lengthAdjust="spacingAndGlyphs">V</text></g>
<g transform="rotate(-89.95)"><text x="-115.13" y="20.94" font-size="10.00" textLength="7.31" lengthAdjust="spacingAndGlyphs">−</text></g>
<g transform="rotate(-89.95)"><text x="-106.30" y="19.50" font-size="9.66" textLength="4.16" lengthAdjust="spacingAndGlyphs">1</text></g>
<g transform="rotate(-89.95)"><text x="-101.32" y="26.76" font-size="16.88" textLength="4.33" lengthAdjust="spacingAndGlyphs">]</text></g>
<g transform="rotate(-89.95)"><text x="-96.58" y="25.67" font-size="14.54" textLength="6.77" lengthAdjust="spacingAndGlyphs">v</text></g>
<g transform="rotate(-89.95)"><text x="-181.54" y="20.06" font-size="9.68" textLength="4.19" lengthAdjust="spacingAndGlyphs">d</text></g>
<g transform="rotate(-89.95)"><text x="-177.49" y="20.06" font-size="10.27" textLength="8.12" lengthAdjust="spacingAndGlyphs">Γ</text></g>
<g transform="rotate(-89.95)"><text x="-195.19" y="31.06" font-size="10.24" textLength="5.30" lengthAdjust="spacingAndGlyphs">d</text></g>
<g transform="rotate(-89.95)"><text x="-187.95" y="30.88" font-size="10.53" font-style="italic" textLength="9.08" lengthAdjust="spacingAndGlyphs">M</text></g>
<g transform="rotate(-89.95)"><text x="-177.10" y="34.00" font-size="8.18" font-style="italic" textLength="5.99" lengthAdjust="spacingAndGlyphs">K</text></g>
<g transform="rotate(-89.95)"><text x="-170.36" y="31.96" font-size="7.80" textLength="6.85" lengthAdjust="spacingAndGlyphs">−</text></g>
<g transform="rotate(-89.95)"><text x="-161.58" y="34.20" font-size="7.09" font-style="italic" textLength="4.69" lengthAdjust="spacingAndGlyphs">η</text></g>
<g transform="rotate(-89.95)"><text x="-205.00" y="19.70" font-size="9.66" textLength="5.03" lengthAdjust="spacingAndGlyphs">1</text></g>
<g transform="rotate(-89.95)"><text x="-204.83" y="31.06" font-size="10.81" textLength="6.28" lengthAdjust="spacingAndGlyphs">Γ</text></g>
<path d="M22.0,156 V194.8 M22.0,198.2 V205" stroke="#000" stroke-width="0.6" fill="none"/>
</g>
</svg>
</body></html>
